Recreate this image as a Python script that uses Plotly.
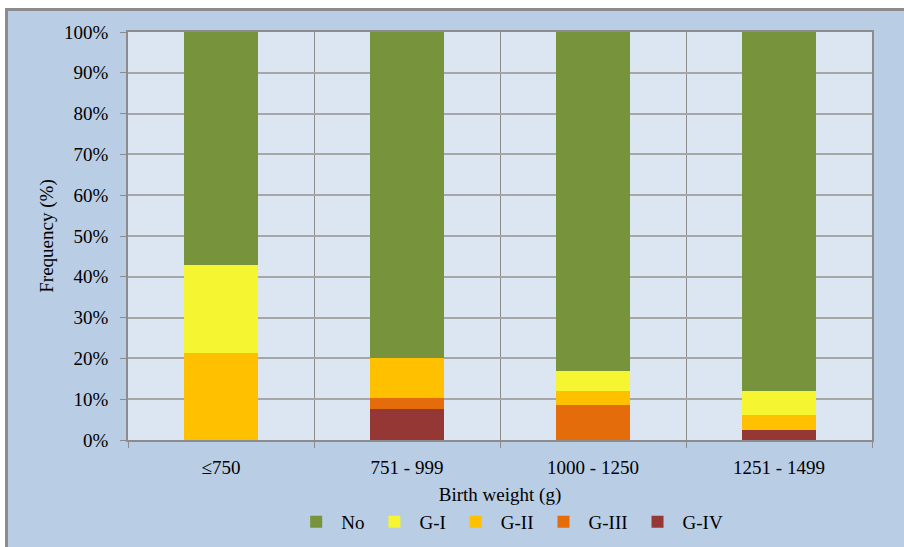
import plotly.graph_objects as go

categories = ["≤750", "751 - 999", "1000 - 1250", "1251 - 1499"]
grade_iv = [0.0, 7.7, 0.0, 2.4]
grade_iii = [0.0, 2.6, 8.6, 0.0]
grade_ii = [21.4, 9.7, 3.4, 3.7]
grade_i = [21.4, 0.0, 4.9, 5.9]
no_rop = [57.2, 80.0, 83.1, 88.0]

series = [
    ("No", no_rop, "#77933C"),
    ("G-I", grade_i, "#F5F531"),
    ("G-II", grade_ii, "#FFC000"),
    ("G-III", grade_iii, "#E46C0A"),
    ("G-IV", grade_iv, "#953735"),
]

FONT = "Liberation Serif"
FS = 19
fig = go.Figure()
# stack bottom-up: G-IV first, then G-III, G-II, G-I, No
for name, vals, col in reversed(series):
    fig.add_trace(go.Bar(
        x=categories, y=vals, name=name,
        marker=dict(color=col, line=dict(width=0)),
    ))

W, H = 904, 547
L, R, T, B = 128, 32, 32, 107
pw, ph = W - L - R, H - T - B

def px(X):
    return (X - L) / pw

def py(Y):
    return (H - B - Y) / ph

shapes = [
    dict(type="rect", xref="paper", yref="paper", x0=px(-10), x1=px(W + 10),
         y0=py(8), y1=py(-10), fillcolor="white", line=dict(width=0), layer="above"),
    dict(type="rect", xref="paper", yref="paper", x0=px(-10), x1=px(5),
         y0=py(H + 10), y1=py(-10), fillcolor="white", line=dict(width=0), layer="above"),
    dict(type="line", xref="paper", yref="paper", x0=px(5), x1=px(W + 10),
         y0=py(9.5), y1=py(9.5), line=dict(color="#8C8C8C", width=3), layer="above"),
    dict(type="line", xref="paper", yref="paper", x0=px(6.5), x1=px(6.5),
         y0=py(8), y1=py(H + 10), line=dict(color="#8C8C8C", width=3), layer="above"),
]

fig.update_layout(
    width=W, height=H,
    margin=dict(l=L, r=R, t=T, b=B, autoexpand=False),
    barmode="stack",
    bargap=0.6,
    paper_bgcolor="#B9CDE5",
    plot_bgcolor="#DCE6F2",
    font=dict(family=FONT, size=FS, color="black"),
    showlegend=True,
    legend=dict(
        orientation="h", x=0.513, xanchor="center", y=py(522), yanchor="middle",
        traceorder="reversed", bgcolor="rgba(0,0,0,0)",
        font=dict(family=FONT, size=FS), itemwidth=40,
    ),
    xaxis=dict(
        automargin=False,
        title=dict(text="Birth weight (g)", font=dict(family=FONT, size=FS), standoff=11),
        tickson="boundaries", ticks="outside", ticklen=6, tickcolor="#8C8C8C",
        showgrid=True, gridcolor="#8C8C8C", gridwidth=1,
        showline=True, linecolor="#8C8C8C", linewidth=1.5, mirror=True,
        tickfont=dict(family=FONT, size=FS), ticklabelstandoff=9,
    ),
    yaxis=dict(
        automargin=False,
        title=dict(text="Frequency (%)", font=dict(family=FONT, size=FS), standoff=5),
        range=[0, 100], dtick=10, ticksuffix="%",
        ticks="outside", ticklen=6, tickcolor="#8C8C8C",
        showgrid=True, gridcolor="#A6A6A6", gridwidth=1.5,
        showline=True, linecolor="#8C8C8C", linewidth=1.5, mirror=True,
        tickfont=dict(family=FONT, size=FS), ticklabelstandoff=8,
        zeroline=False,
    ),
    shapes=shapes,
)

fig.write_html("out.html", config={"displayModeBar": False},
               post_script="document.body.style.margin='0';")
